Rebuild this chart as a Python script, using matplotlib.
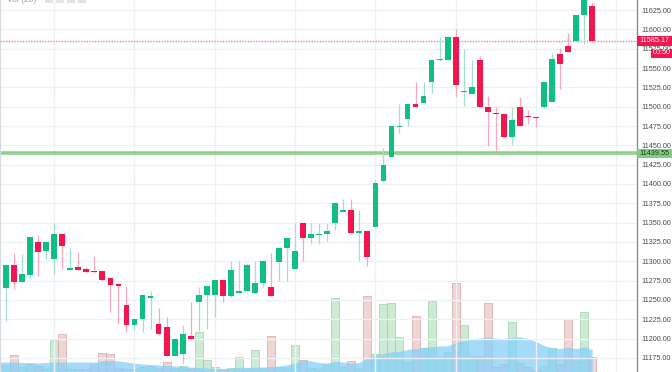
import matplotlib

matplotlib.use("Agg")
import matplotlib.pyplot as plt
import numpy as np
from matplotlib.patches import Rectangle

plt.rcParams["font.family"] = ["Liberation Sans", "DejaVu Sans"]

# OHLC of the 74 hourly candles
opens = [11265, 11295, 11273, 11282, 11325, 11313, 11303, 11335, 11289, 11292,
         11290, 11287, 11287, 11278, 11270, 11244, 11217, 11226, 11252.5, 11219,
         11215, 11178, 11180.5, 11204, 11247, 11256, 11256, 11276, 11255, 11259.5,
         11261, 11259.5, 11271.5, 11266.5, 11299.5, 11317, 11290, 11349, 11330, 11334,
         11335, 11349.5, 11364, 11366, 11337, 11339, 11345, 11403.5, 11435, 11474,
         11484, 11503.5, 11505, 11531.5, 11560, 11560.5, 11590.5, 11519, 11516.5, 11560.5,
         11500, 11491.5, 11490, 11460.5, 11500, 11488, 11487, 11499, 11506.5, 11568,
         11578.5, 11585, 11618.5, 11630]
highs = [11296, 11311, 11309, 11332, 11334, 11326, 11349, 11336, 11317, 11311.5,
         11293, 11307, 11287.5, 11278.5, 11270.5, 11268, 11226, 11256.5, 11262, 11240,
         11228, 11200, 11217.5, 11247, 11267, 11268.5, 11276.5, 11276.5, 11300.5, 11300.5,
         11298, 11300.5, 11301, 11311, 11318, 11330.5, 11350, 11349.5, 11350, 11350,
         11350, 11376, 11380, 11380, 11366.5, 11339.5, 11405, 11447, 11475.5, 11503,
         11504, 11532, 11532, 11561.5, 11590.5, 11591, 11600, 11574, 11560.5, 11565.5,
         11514, 11500, 11491, 11500, 11513, 11495.5, 11487.5, 11533, 11569, 11575.5,
         11595, 11619, 11645, 11635]
lows = [11223, 11264, 11271.5, 11276.5, 11281.5, 11303.5, 11283, 11289.5, 11288.5, 11288.5,
        11284.5, 11285.5, 11275, 11235, 11219, 11208, 11211, 11208, 11213, 11205,
        11177.5, 11177, 11167, 11199.5, 11209.5, 11212, 11227.5, 11247.5, 11254, 11259,
        11260, 11257.5, 11266.5, 11255, 11275, 11275, 11289.5, 11301, 11323, 11323,
        11326.5, 11340.5, 11364, 11336, 11301, 11294, 11344.5, 11403, 11435, 11465.5,
        11475, 11499.5, 11504.5, 11518, 11559.5, 11560, 11513, 11501, 11516, 11499.5,
        11448.5, 11441, 11460, 11451, 11475, 11477.5, 11473.5, 11498.5, 11506, 11522.5,
        11571, 11584.5, 11580.5, 11584]
closes = [11295, 11273.5, 11283, 11331, 11312.5, 11325, 11335, 11319.5, 11291.5, 11289,
          11286, 11286, 11275.5, 11269, 11268, 11217, 11225.5, 11256, 11255, 11205.5,
          11178, 11199.5, 11205.5, 11200, 11257, 11268, 11276, 11254.5, 11288.5, 11261.5,
          11295, 11271.5, 11300.5, 11255.5, 11317, 11329.5, 11313, 11329.5, 11335, 11335.5,
          11339, 11375.5, 11366.5, 11336, 11339.5, 11305, 11401, 11424.5, 11475, 11475.5,
          11503.5, 11500, 11514, 11561, 11561.5, 11590.5, 11528, 11520.5, 11526, 11500,
          11493, 11490.5, 11460.5, 11483, 11475.5, 11486.5, 11485.5, 11532, 11561.5, 11555,
          11571, 11618.5, 11643, 11585.17]

# volume per candle and its moving average (arbitrary units)
volumes = [7, 17, 5, 8, 6, 3, 32, 38, 3, 3,
           3, 8, 19, 18, 4, 3, 3, 5, 6, 4,
           10, 4, 6, 3, 40, 12, 5, 3, 4, 15,
           3, 22, 4, 36, 5, 4, 27, 12, 4, 3,
           7, 74, 5, 11, 4, 76, 18, 68, 69, 35,
           10, 56, 24, 71, 15, 20, 89, 47, 16, 16,
           69, 5, 8, 50, 9, 5, 2, 6, 24, 8,
           53, 11, 60, 15]
volume_ma = [10, 10, 9.5, 9.5, 9, 9.5, 10, 10, 10, 10,
             10, 10, 11, 11.5, 11, 10, 9, 8, 7.5, 7,
             6.5, 6, 5.5, 5, 4.5, 4, 3.5, 2.5, 3.5, 4.5,
             4.7, 4.7, 5, 5.5, 6, 7, 9, 12, 11, 9.5,
             9, 10.7, 10, 9, 9.5, 13.5, 17, 18.5, 20, 20.5,
             22.5, 23.5, 24.7, 25.3, 26, 26.3, 29.5, 31, 33, 34,
             35.5, 34, 33.5, 34.5, 35.5, 33.5, 30.5, 26.5, 24, 23.5,
             25, 23.5, 25.3, 22.5]

price_ticks = [11175, 11200, 11225, 11250, 11275, 11300, 11325, 11350, 11375, 11400,
               11425, 11450, 11475, 11500, 11525, 11550, 11575, 11600, 11625]
last_price = 11585.17
level_price = 11439.55
countdown = "00:50"
legend_title = "Vol (20)"

GREEN = "#0fbf84"
RED = "#f2164f"
W, H = 672, 372
AX_W = 637

fig = plt.figure(figsize=(W / 100, H / 100), dpi=100)
ax = fig.add_axes([0, 0, AX_W / W, 1])
ax_v = ax.twinx()
ax.set_zorder(ax_v.get_zorder() + 1)
ax.patch.set_visible(False)

idx = np.arange(len(opens))
o, h, l, c = map(np.array, (opens, highs, lows, closes))
up = c >= o

# volume pane
ax_v.bar(idx[up], np.array(volumes)[up], width=1.0, color="#bde5c6", alpha=0.75,
         edgecolor="#9cd3aa", linewidth=0.7)
ax_v.bar(idx[~up], np.array(volumes)[~up], width=1.0, color="#ecc8c8", alpha=0.75,
         edgecolor="#d8a8a8", linewidth=0.7)
xl = (-0.75, 78.58)
ax_v.fill_between(np.r_[xl[0], idx], np.r_[volume_ma[0], volume_ma], 0,
                  color="#86cff9", alpha=0.75, linewidth=0)
ax_v.set_ylim(0, 372)
ax_v.axis("off")

# candles
ax.vlines(idx[up], l[up], h[up], color="#a6e0c9", linewidth=0.9, zorder=3)
ax.vlines(idx[~up], l[~up], h[~up], color="#f6a9bb", linewidth=0.9, zorder=3)
body_lo = np.minimum(o, c)
body_h = np.maximum(np.abs(c - o), 1.6)
ax.bar(idx[up], body_h[up], bottom=body_lo[up], width=0.72, color=GREEN, zorder=4)
ax.bar(idx[~up], body_h[~up], bottom=body_lo[~up], width=0.72, color=RED, zorder=4)

# reference lines
ax.axhline(last_price, color="#f27a94", linestyle=(0, (1, 1)), linewidth=1.0, zorder=2)
ax.axhline(level_price, color="#82cd82", linewidth=2.6, alpha=0.9, zorder=2)

ax.set_xlim(*xl)
ax.set_ylim(11156.8, 11638.0)
ax.set_xticks(np.arange(6, 79, 10))
ax.set_yticks(price_ticks)
ax.set_yticklabels([f"{p:.2f}" for p in price_ticks])
ax.yaxis.tick_right()
ax.tick_params(axis="y", length=0, pad=3.5, labelsize=5.2, labelcolor="#4a4a4a")
ax.tick_params(axis="x", length=0, labelbottom=False)
ax.grid(color="#edf1f4", linewidth=1.0)
ax.set_axisbelow(True)
for side in ["top", "bottom"]:
    ax.spines[side].set_visible(False)
ax.spines["left"].set_color("#d5dae0")
ax.spines["left"].set_linewidth(1.5)
ax.spines["right"].set_color("#8c8c8c")
ax.spines["right"].set_linewidth(1.0)
ax.spines["right"].set_zorder(6)


def tag(x0, y0, x1, y1, text, face, color):
    fig.patches.append(Rectangle((x0 / W, 1 - y1 / H), (x1 - x0) / W, (y1 - y0) / H,
                                 transform=fig.transFigure, facecolor=face,
                                 edgecolor="none", zorder=10))
    fig.text((x0 + x1) / 2 / W, 1 - (y0 + y1) / 2 / H, text, ha="center", va="center",
             fontsize=5.2, color=color, zorder=11)


tag(637, 36, 672, 46, f"{last_price:.2f}", RED, "white")
tag(651, 48.5, 672, 57.5, countdown, RED, "white")
tag(637, 149, 672, 158.5, f"{level_price:.2f}", "#82cd82", "#1d3b1d")

# indicator legend, cut off by the top edge
fig.text(7 / W, 1 - 2 / H, legend_title, ha="left", va="baseline", fontsize=6,
         color="#9a9a9a")
for bx in [45, 56, 67, 78]:
    fig.patches.append(Rectangle((bx / W, 1 - 2.5 / H), 8 / W, 3 / H,
                                 transform=fig.transFigure, facecolor="#e3e3e3",
                                 edgecolor="none"))

fig.savefig("out.png", dpi=100)
